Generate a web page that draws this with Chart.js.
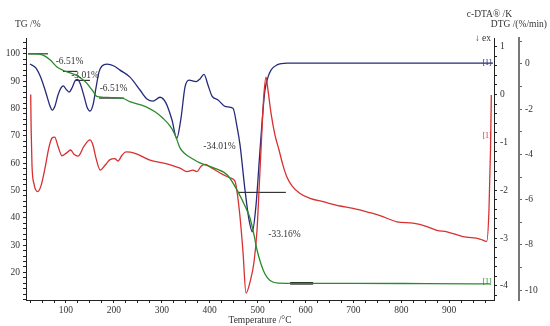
<!DOCTYPE html>
<html>
<head>
<meta charset="utf-8">
<script src="https://cdn.jsdelivr.net/npm/chart.js@4.4.1/dist/chart.umd.min.js"></script>
<style>
  html, body { margin: 0; padding: 0; background: #fff; }
</style>
</head>
<body>
<canvas id="thermoChart" width="550" height="326"></canvas>
<script>
// TG curve (temperature in °C, mass in %)
const tgTemp = [20.7, 35.3, 52.0, 66.6, 80.6, 94.4, 108.4, 122.3, 133.4, 143.2, 150.1, 157.0, 164.1, 177.2, 196.0, 219.0,
  233.6, 264.9, 285.8, 302.5, 317.1, 327.6, 338.0, 348.4, 363.0, 379.7, 411.1, 438.2, 459.1, 473.7, 484.1, 492.5,
  498.8, 507.1, 515.4, 525.9, 542.6, 588.5, 700, 850, 985];
const tgVal = [100.0, 100.0, 99.5, 97.8, 95.3, 93.9, 93.0, 92.1, 90.8, 89.3, 87.7, 86.2, 84.4, 84.1, 84.0, 83.7,
  82.5, 80.8, 78.8, 76.4, 73.6, 70.4, 65.6, 63.4, 61.7, 60.1, 58.1, 55.4, 49.5, 44.3, 39.9, 33.7,
  28.2, 23.1, 19.4, 17.0, 16.1, 16.0, 16.0, 15.9, 15.8];

// c-DTA curve (K)
const dtaTemp = [26.3, 27.3, 29.0, 33.2, 40.9, 47.8, 56.2, 64.5, 70.8, 76.4, 83.3, 91.6, 100.0, 109.8, 116.7, 125.0,
  137.6, 150.1, 156.4, 162.6, 171.6, 181.4, 191.9, 201.7, 208.6, 216.9, 225.3, 244.1, 275.4, 306.7, 338.0, 352.6,
  365.1, 373.5, 382.0, 390.2, 404.8, 421.5, 442.4, 452.8, 458.0, 463.3, 469.5, 475.8, 484.1, 492.5, 498.8, 503.0,
  508.1, 512.3, 517.5, 521.7, 528.0, 536.3, 544.7, 553.0, 561.4, 571.8, 588.5, 609.4, 636.5, 672.0, 699.2, 734.6,
  755.5, 791.0, 824.4, 853.6, 874.5, 895.4, 928.8, 964.3, 978.3, 983.0, 986.2, 987.9];
const dtaVal = [0.00, -0.75, -1.48, -1.87, -2.03, -1.91, -1.54, -1.10, -0.91, -0.89, -1.08, -1.28, -1.23, -1.16, -1.25, -1.29,
  -1.08, -0.95, -1.06, -1.33, -1.58, -1.48, -1.36, -1.34, -1.39, -1.27, -1.20, -1.23, -1.37, -1.44, -1.54, -1.61,
  -1.58, -1.61, -1.50, -1.46, -1.54, -1.64, -1.74, -1.81, -2.10, -2.56, -3.29, -4.15, -3.92, -3.50, -2.83, -2.00,
  -0.95, -0.12, 0.36, 0.09, -0.39, -0.85, -1.16, -1.48, -1.73, -1.91, -2.07, -2.17, -2.24, -2.33, -2.38, -2.47,
  -2.53, -2.66, -2.69, -2.76, -2.84, -2.87, -2.97, -3.02, -3.07, -2.42, -1.16, -0.01];

// DTG curve (%/min)
const dtgTemp = [24.8, 37.4, 47.8, 58.2, 66.6, 71.4, 77.0, 83.3, 89.6, 94.4, 100.0, 106.3, 112.5, 118.8, 123.6, 129.2,
  137.6, 143.8, 150.1, 156.4, 162.6, 168.9, 175.2, 185.6, 200.2, 212.7, 233.6, 254.5, 269.1, 281.6, 296.2, 308.8,
  321.3, 331.1, 340.1, 348.4, 356.8, 371.4, 379.7, 388.1, 396.4, 404.8, 417.3, 434.0, 448.6, 457.0, 463.3, 473.7,
  482.1, 488.9, 496.7, 505.0, 511.3, 515.4, 521.7, 528.0, 540.5, 561.4, 700, 850, 991.4];
const dtgVal = [0.00, -0.18, -0.62, -1.28, -1.86, -2.04, -1.86, -1.37, -1.06, -0.97, -1.11, -1.24, -1.06, -0.75, -0.68, -0.84,
  -1.42, -1.90, -2.08, -1.81, -1.06, -0.35, -0.09, -0.01, -0.09, -0.27, -0.58, -1.15, -1.55, -1.64, -1.47, -1.73,
  -2.48, -3.29, -2.39, -1.02, -0.71, -0.78, -0.66, -0.46, -0.93, -1.42, -1.59, -1.89, -1.96, -2.77, -3.58, -5.58,
  -6.90, -7.42, -6.24, -3.81, -2.04, -1.15, -0.58, -0.27, -0.04, 0.04, 0.04, 0.04, 0.04];

// step evaluation markers on the TG curve: [tStart, tEnd, TG level]
const stepLines = [[20.7, 62.4, 100.0], [93.7, 123.0, 93.6], [118.8, 150.0, 90.3], [169.0, 221.0, 83.8], [459.0, 559.0, 49.3]];
const residueLine = [568, 616, 16.0];

// step labels
const stepText = ['-6.51%', '-3.01%', '-6.51%', '-34.01%', '-33.16%'];
const stepTextT = [107.3, 139.7, 199.2, 420.5, 556.2];
const stepTextTG = [97.2, 91.9, 87.3, 66.0, 33.7];

const tgColor = '#2a8a2a';
const dtaColor = '#d83030';
const dtgColor = '#262a7a';
const serif = '"Liberation Serif", "DejaVu Serif", serif';

const toXY = (xs, ys) => xs.map((x, i) => ({ x: x, y: ys[i] }));

const datasets = [
  { data: toXY(tgTemp, tgVal), yAxisID: 'y', borderColor: tgColor },
  { data: toXY(dtaTemp, dtaVal), yAxisID: 'yDTA', borderColor: dtaColor },
  { data: toXY(dtgTemp, dtgVal), yAxisID: 'yDTG', borderColor: dtgColor }
].map(d => Object.assign(d, { borderWidth: 1.3, pointRadius: 0, cubicInterpolationMode: 'monotone', fill: false }));

stepLines.forEach(s => {
  datasets.push({ data: [{ x: s[0], y: s[2] }, { x: s[1], y: s[2] }], yAxisID: 'y',
    borderColor: '#111', borderWidth: 1, pointRadius: 0 });
});
datasets.push({ data: [{ x: residueLine[0], y: residueLine[2] }, { x: residueLine[1], y: residueLine[2] }], yAxisID: 'y',
  borderColor: '#111', borderWidth: 2.5, pointRadius: 0 });

const tickFont = { family: serif, size: 9.5 };

const textPlugin = {
  id: 'thermoTexts',
  afterDraw(chart) {
    const { ctx, scales } = chart;
    const x = scales.x, y = scales.y;
    ctx.save();
    ctx.font = '9.5px ' + serif;
    ctx.textBaseline = 'middle';
    ctx.textAlign = 'center';
    ctx.fillStyle = '#333';
    stepText.forEach((t, i) => ctx.fillText(t, x.getPixelForValue(stepTextT[i]), y.getPixelForValue(stepTextTG[i])));

    // curve tags at the right end
    ctx.font = '8px ' + serif;
    ctx.fillStyle = dtgColor;
    ctx.fillText('[1]', x.getPixelForValue(979), scales.yDTG.getPixelForValue(0.06));
    ctx.fillStyle = dtaColor;
    ctx.fillText('[1]', x.getPixelForValue(979), scales.yDTA.getPixelForValue(-0.87));
    ctx.fillStyle = tgColor;
    ctx.fillText('[1]', x.getPixelForValue(979), y.getPixelForValue(16.7));

    // axis titles
    ctx.font = '9.5px ' + serif;
    ctx.fillStyle = '#333';
    ctx.textAlign = 'left';
    ctx.fillText('TG /%', 15, 24);
    ctx.textAlign = 'right';
    ctx.fillText('c-DTA® /K', 512, 14);
    ctx.fillText('DTG /(%/min)', 547, 24);
    ctx.fillText('↓ ex', 491, 38);
    ctx.restore();
  }
};

new Chart(document.getElementById('thermoChart'), {
  type: 'line',
  data: { datasets: datasets },
  options: {
    responsive: false,
    animation: false,
    devicePixelRatio: 1,
    layout: { padding: { top: 38 } },
    plugins: { legend: { display: false }, tooltip: { enabled: false } },
    scales: {
      x: {
        type: 'linear', min: 16.5, max: 993.5,
        afterFit: s => { s.height = 26; },
        grid: { drawOnChartArea: false, tickLength: 3, color: '#222' },
        border: { color: '#222', width: 1 },
        ticks: {
          stepSize: 25, autoSkip: false, maxRotation: 0, padding: 2, includeBounds: false,
          font: tickFont, color: '#333',
          callback: v => (v % 100 === 0 && v >= 100 && v <= 900) ? String(v) : ''
        },
        title: { display: true, text: 'Temperature /°C', font: { family: serif, size: 9.5 }, color: '#333', padding: { top: 0, bottom: 0 } }
      },
      y: {
        position: 'left', min: 9.9, max: 105.8,
        afterFit: s => { s.width = 26; },
        grid: { drawOnChartArea: false, tickLength: 3, color: '#222' },
        border: { color: '#222', width: 1 },
        ticks: {
          stepSize: 2, autoSkip: false, padding: 3, includeBounds: false,
          font: tickFont, color: '#333',
          callback: v => (Math.abs(v % 10) < 1e-6 && v >= 20 && v <= 100) ? String(Math.round(v)) : ''
        }
      },
      yDTA: {
        position: 'right', weight: 0, min: -4.294, max: 1.18,
        afterFit: s => { s.width = 25; },
        grid: { drawOnChartArea: false, tickLength: 3, color: '#222' },
        border: { color: '#222', width: 1 },
        ticks: {
          stepSize: 0.2, autoSkip: false, padding: 3, includeBounds: false,
          font: tickFont, color: '#333',
          callback: v => Math.abs(v - Math.round(v)) < 1e-6 ? String(Math.round(v)) : ''
        }
      },
      yDTG: {
        position: 'right', weight: 1, min: -10.44, max: 1.15,
        afterFit: s => { s.width = 31; },
        grid: { drawOnChartArea: false, tickLength: 3, color: '#666' },
        border: { color: '#777', width: 2 },
        ticks: {
          stepSize: 1, autoSkip: false, padding: 3, includeBounds: false,
          font: tickFont, color: '#333',
          callback: v => (Math.round(v) % 2 === 0 && v <= 0) ? String(Math.round(v)) : ''
        }
      }
    }
  },
  plugins: [textPlugin]
});
</script>
</body>
</html>
